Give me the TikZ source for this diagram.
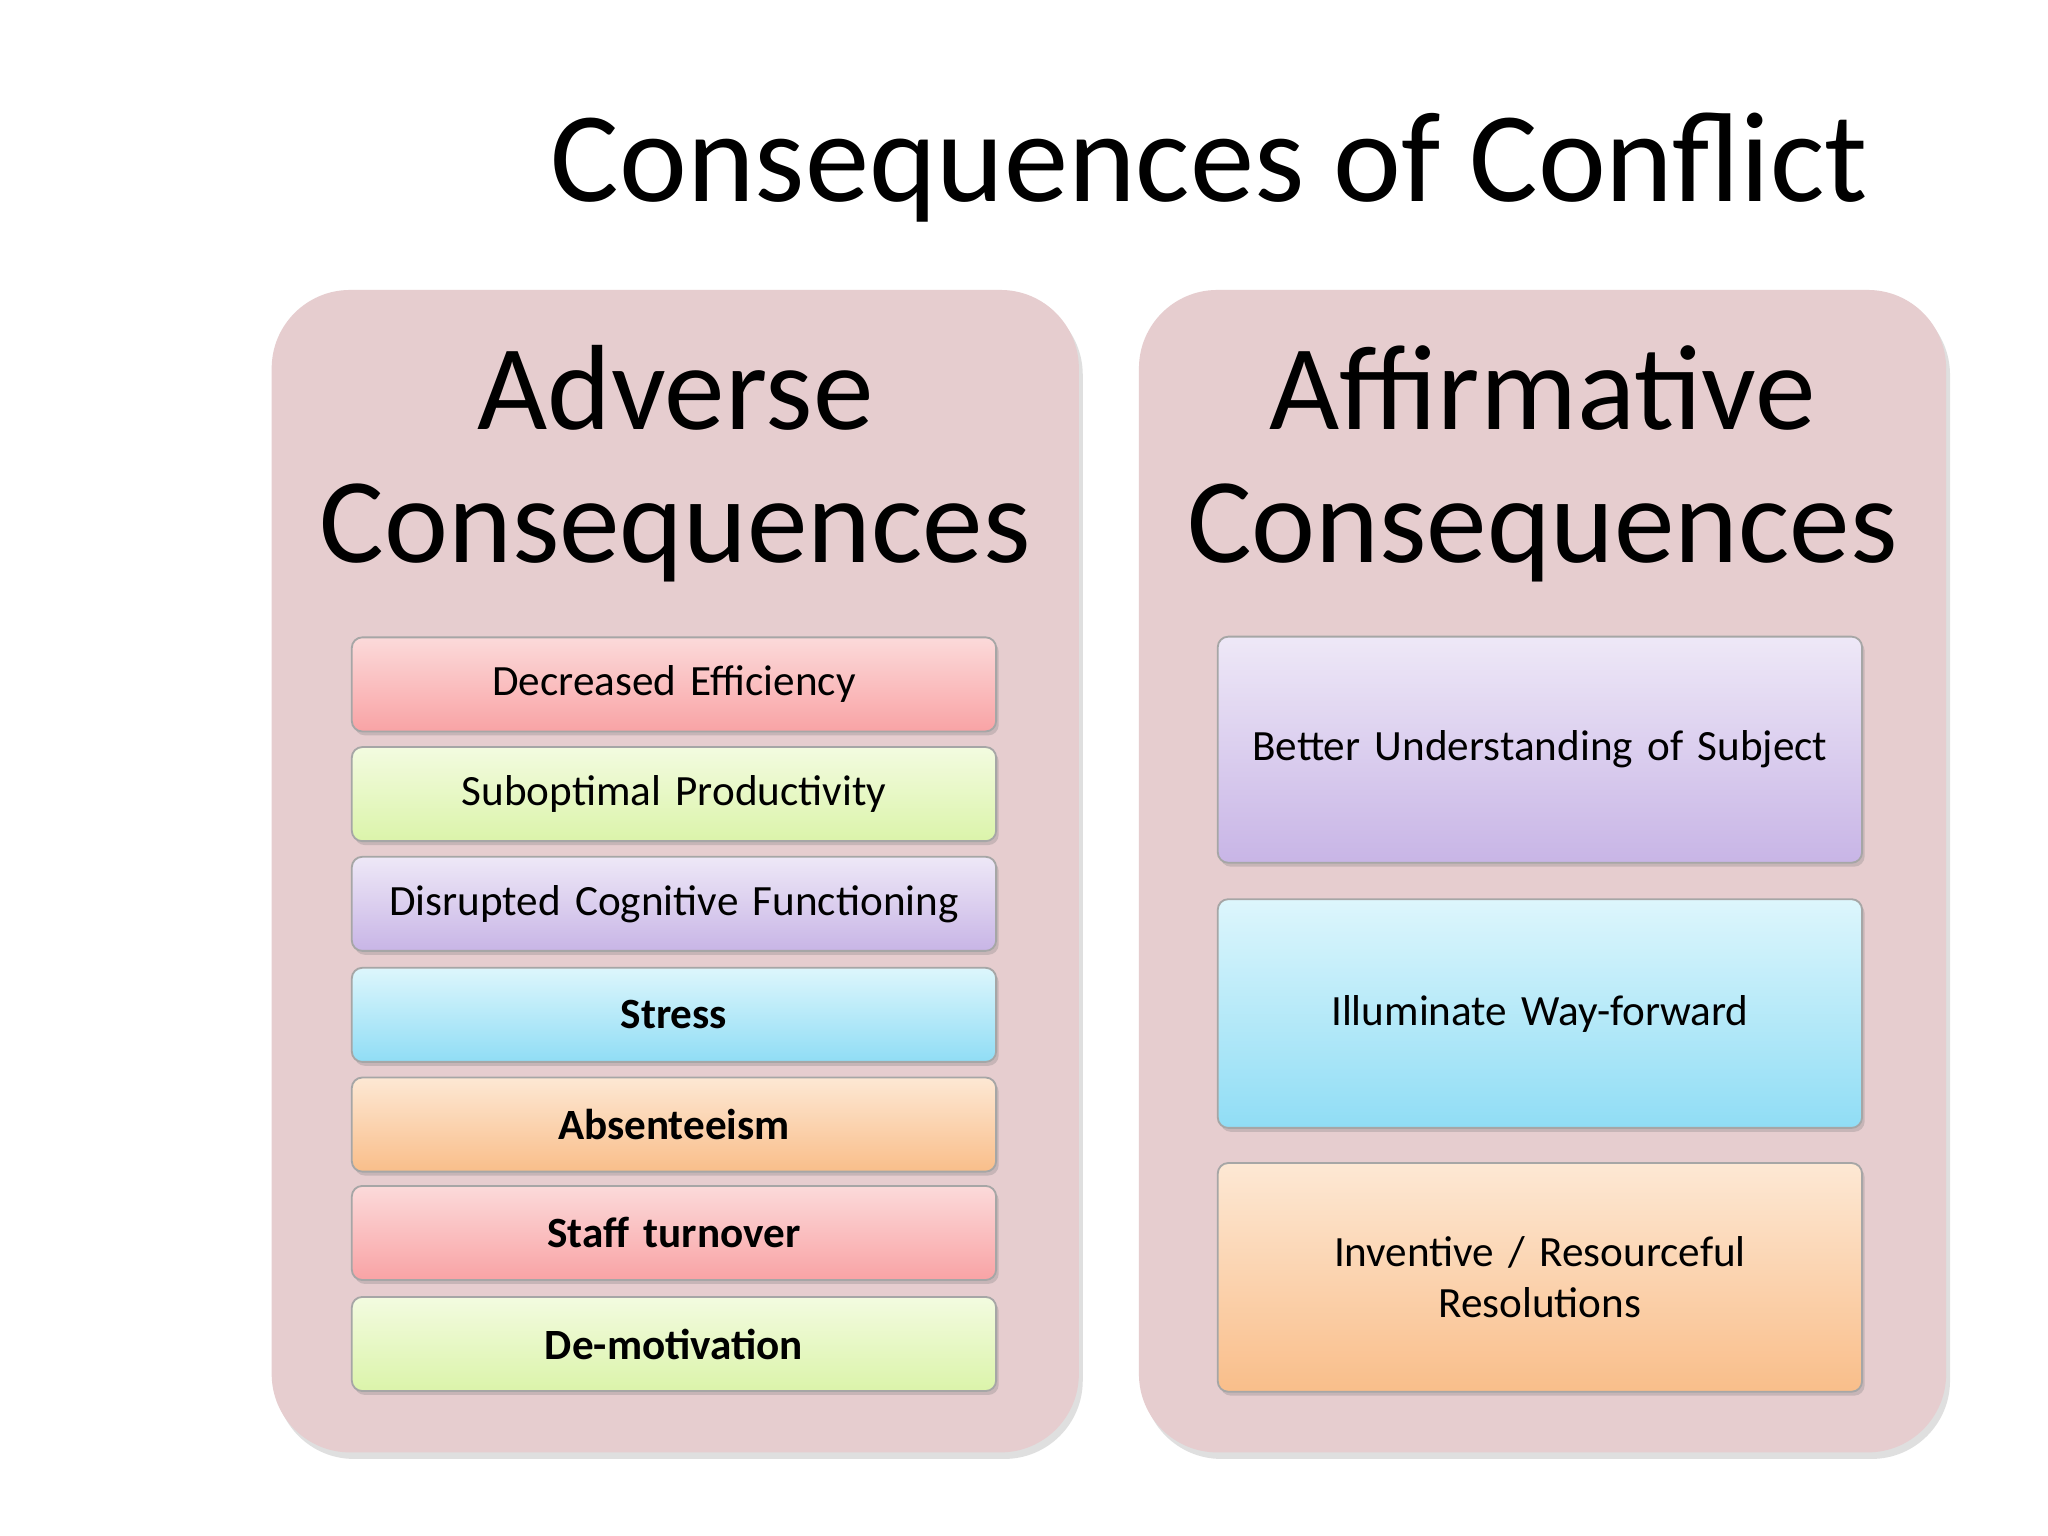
\documentclass[tikz,border=0pt]{standalone}
\usepackage{fontspec}
\setmainfont{Carlito}
\usetikzlibrary{shadows}
\definecolor{panel}{HTML}{E6CDCF}
\definecolor{rT}{HTML}{FBDADA}\definecolor{rB}{HTML}{F9A3A5}
\definecolor{gT}{HTML}{F3FBE0}\definecolor{gB}{HTML}{DBF4AA}
\definecolor{pT}{HTML}{EEE8F7}\definecolor{pB}{HTML}{C8B5E6}
\definecolor{bT}{HTML}{DDF6FC}\definecolor{bB}{HTML}{90DDF5}
\definecolor{oT}{HTML}{FDE8D4}\definecolor{oB}{HTML}{F9BE8A}
\tikzset{
 panelbox/.style={fill=panel,rounded corners=0.6cm,draw=none,drop shadow={opacity=0.25,shadow xshift=0.03cm,shadow yshift=-0.05cm}},
 item/.style={draw=black!35,line width=0.4pt,rounded corners=0.08cm,minimum width=4.93cm,text width=4.8cm,align=center,inner sep=0pt,font=\fontsize{9.4}{11}\selectfont,drop shadow={opacity=0.3,shadow xshift=0.02cm,shadow yshift=-0.03cm}},
 red/.style={top color=rT,bottom color=rB},
 grn/.style={top color=gT,bottom color=gB},
 pur/.style={top color=pT,bottom color=pB},
 blu/.style={top color=bT,bottom color=bB},
 ora/.style={top color=oT,bottom color=oB},
}
\begin{document}
\begin{tikzpicture}[x=0.01cm,y=-0.01cm]
\fill[white] (0,0) rectangle (1568,1176);
\useasboundingbox (0,0) rectangle (1568,1176);
\node (title) at (926,128) {\fontsize{28}{32}\selectfont Consequences of Conflict};
\path[panelbox] (208,222) rectangle (826,1112);
\path[panelbox] (872,222) rectangle (1490,1112);
\node[align=center,font=\fontsize{26.4}{29}\selectfont] (lh) at (517,355) {Adverse\\Consequences};
\node[align=center,font=\fontsize{26.4}{29}\selectfont] (rh) at (1181,355) {Affirmative\\Consequences};
\node[item,red,minimum height=0.72cm] (l1) at (516,524) {Decreased Efficiency};
\node[item,grn,minimum height=0.72cm] (l2) at (516,608) {Suboptimal Productivity};
\node[item,pur,minimum height=0.72cm] (l3) at (516,692) {Disrupted Cognitive Functioning};
\node[item,blu,minimum height=0.72cm] (l4) at (516,777) {\textbf{Stress}};
\node[item,ora,minimum height=0.72cm] (l5) at (516,861) {\textbf{Absenteeism}};
\node[item,red,minimum height=0.72cm] (l6) at (516,944) {\textbf{Staff turnover}};
\node[item,grn,minimum height=0.72cm] (l7) at (516,1029) {\textbf{De-motivation}};
\node[item,pur,minimum height=1.73cm] (r1) at (1179,574) {Better Understanding of Subject};
\node[item,blu,minimum height=1.75cm] (r2) at (1179,776) {Illuminate Way-forward};
\node[item,ora,minimum height=1.75cm] (r3) at (1179,978) {Inventive / Resourceful\\Resolutions};
\end{tikzpicture}
\end{document}
